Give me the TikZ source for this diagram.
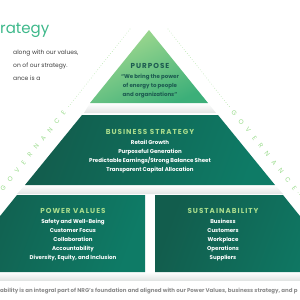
\documentclass[tikz,border=0pt]{standalone}
\usepackage{fontspec}
\setmainfont{Poppins}
\newfontfamily\headfont[LetterSpace=14]{Poppins}
\newfontfamily\govfont[LetterSpace=100]{Poppins}
\usetikzlibrary{positioning}

\definecolor{nrgGreen}{HTML}{3DB88A}
\definecolor{purposeTop}{HTML}{A6DB90}
\definecolor{purposeBot}{HTML}{3CAF79}
\definecolor{tealDark}{HTML}{125D4D}
\definecolor{tealMid}{HTML}{0E7B66}
\definecolor{tealTitle}{HTML}{1D5B50}
\definecolor{limeText}{HTML}{A9DC8C}
\definecolor{govGreen}{HTML}{9ADB8C}
\definecolor{shadowGray}{HTML}{E2E5E4}
\definecolor{bodyGray}{HTML}{3C3C3C}
\definecolor{noteGray}{HTML}{8A8A8A}

\begin{document}
\begin{tikzpicture}[
  x=1pt, y=-1pt,
  node distance = 2pt,
  purposeshade/.style = {top color=purposeTop, bottom color=purposeBot, shading angle=25},
  tealshade/.style    = {left color=tealDark, right color=tealMid, shading angle=70},
  shadowstrip/.style  = {top color=white, bottom color=shadowGray},
  headtitle/.style = {font=\headfont\bfseries\fontsize{7.2}{8}\selectfont, inner sep=0pt},
  bodylist/.style  = {font=\bfseries\fontsize{5.5}{9}\selectfont, align=center, inner sep=0pt, text=white},
  paratext/.style  = {font=\fontsize{6}{8}\selectfont, text=bodyGray, anchor=base west, inner sep=0pt},
  govtext/.style   = {font=\govfont\fontsize{6.4}{7}\selectfont, text=govGreen, inner xsep=4pt, inner ysep=0pt},
  govline/.style   = {govGreen, line width=0.7pt, line cap=round, dash pattern=on 0pt off 2.6pt},
]
\useasboundingbox (0,0) rectangle (300,300);
\clip (0,0) rectangle (300,300);

%% ---- Heading and intro text ----
\node[font=\fontsize{15}{15}\selectfont, text=nrgGreen, anchor=base west, inner sep=0pt] (headline) at (0,33) {rategy};
\node[paratext] (para1) at (13,54) {along with our values,};
\node[paratext] (para2) at (13,67) {on of our strategy.};
\node[paratext] (para3) at (13,80) {ance is a};

%% ---- Shadows under the tiers ----
\shade[shadowstrip] (90,103) -- (208,103) -- (216,113) -- (84,113) -- cycle;
\shade[shadowstrip] (25,185) -- (275,185) -- (283,194) -- (17,194) -- cycle;
\shade[shadowstrip] (-45,272) -- (345,272) -- (345,280) -- (-45,280) -- cycle;

%% ---- Pyramid tiers ----
\shade[purposeshade] (149,30) -- (208,103) -- (90,103) -- cycle;
\shade[tealshade] (82,115) -- (218,115) -- (275,185) -- (25,185) -- cycle;
\shade[tealshade] (17,195) -- (145,195) -- (145,272) -- (-45,272) -- cycle;
\shade[tealshade] (155,195) -- (283,195) -- (345,272) -- (155,272) -- cycle;

%% ---- Purpose ----
\node[headtitle, text=tealTitle] (purpose) at (150,66) {PURPOSE};
\node[bodylist, text=tealTitle, below=5pt of purpose] (purposeText) {%
  “We bring the power\\of energy to people\\and organizations”};

%% ---- Business strategy ----
\node[headtitle, text=limeText] (strategy) at (150,132) {BUSINESS STRATEGY};
\node[bodylist, below=5pt of strategy] (strategyList) {%
  Retail Growth\\
  Purposeful Generation\\
  Predictable Earnings/Strong Balance Sheet\\
  Transparent Capital Allocation};

%% ---- Power values ----
\node[headtitle, text=limeText] (values) at (73,211) {POWER VALUES};
\node[bodylist, below=5pt of values] (valuesList) {%
  Safety and Well-Being\\
  Customer Focus\\
  Collaboration\\
  Accountability\\
  Diversity, Equity, and Inclusion};

%% ---- Sustainability ----
\node[headtitle, text=limeText] (sustain) at (223,211) {SUSTAINABILITY};
\node[bodylist, below=5pt of sustain] (sustainList) {%
  Business\\
  Customers\\
  Workplace\\
  Operations\\
  Suppliers};

%% ---- Governance ----
\coordinate (govLtop) at (130,29);
\coordinate (govLend) at (-31,230);
\coordinate (govRtop) at (168,29);
\coordinate (govRend) at (329,230);
\node[govtext, rotate=51.3]  (govL) at (33,151) {GOVERNANCE};
\node[govtext, rotate=-51.3] (govR) at (264,150) {GOVERNANCE};
\draw[govline] (govLtop) -- (govL.east);
\draw[govline] (govL.west) -- (govLend);
\draw[govline] (govRtop) -- (govR.west);
\draw[govline] (govR.east) -- (govRend);

%% ---- Footnote ----
\node[font=\bfseries\fontsize{5.5}{6}\selectfont, text=noteGray, anchor=base west, inner sep=0pt] (note) at (0,292)
  {ability is an integral part of NRG’s foundation and aligned with our Power Values, business strategy, and p};

\end{tikzpicture}
\end{document}
